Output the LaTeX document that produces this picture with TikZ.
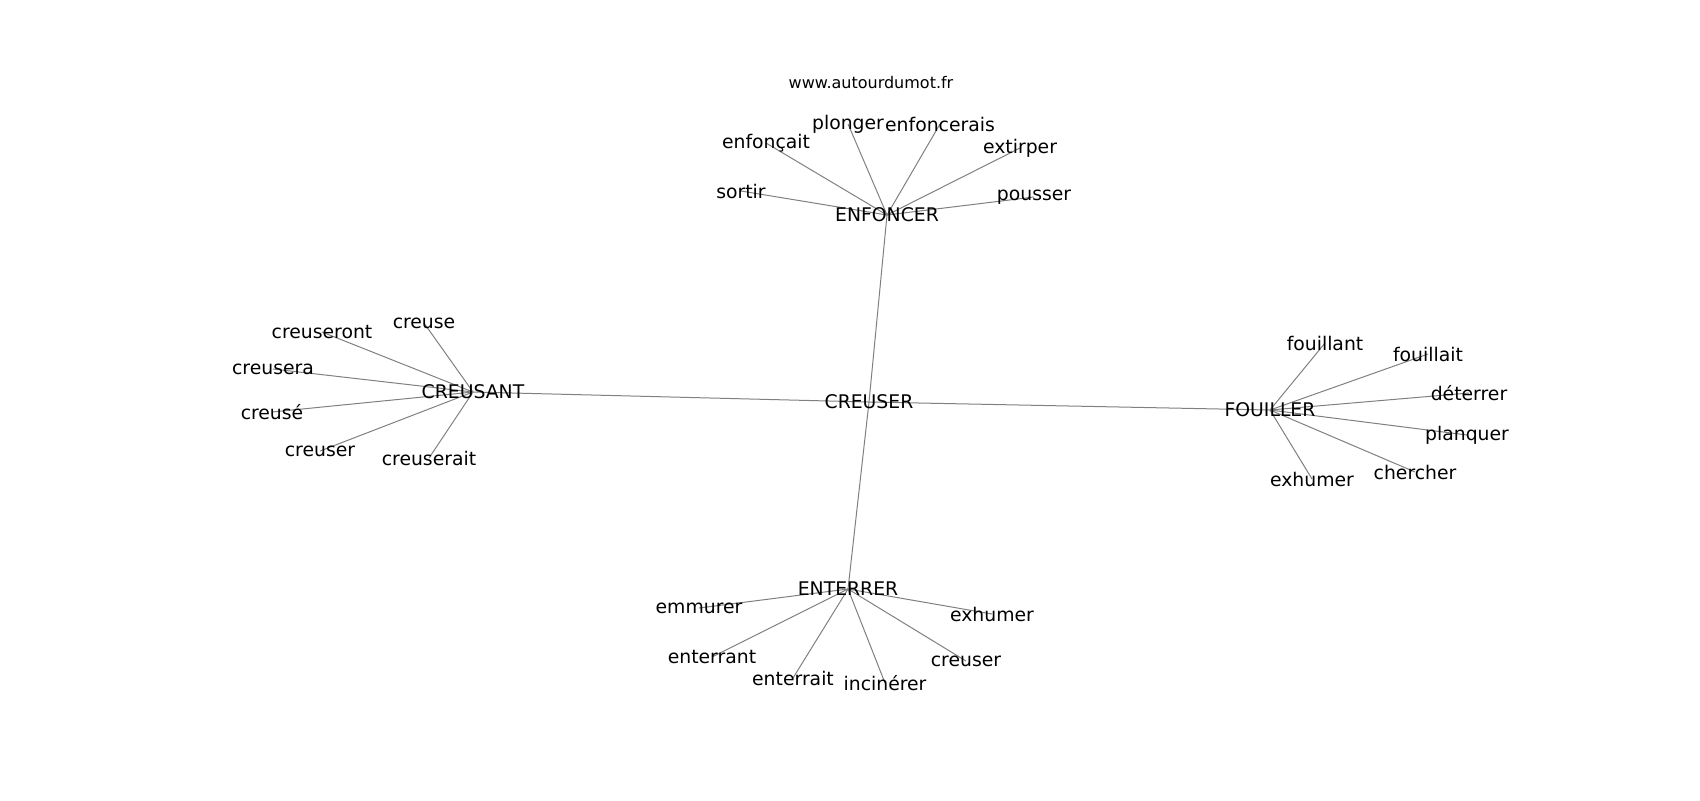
\documentclass[tikz,border=0pt]{standalone}
\usepackage{fontspec}
\setmainfont{DejaVu Sans}
\usetikzlibrary{backgrounds}

\begin{document}
\begin{tikzpicture}[x=0.5pt, y=-0.5pt,
  word/.style={inner sep=0pt, font=\fontsize{9.4}{11}\selectfont},
  link/.style={draw=gray, line width=0.5pt}]
\useasboundingbox (0,0) rectangle (1700,800);

% Title
\node[inner sep=0pt, font=\fontsize{8}{10}\selectfont] (site) at (871,83) {www.autourdumot.fr};

% Hubs
\node[word] (cre) at (869,402) {CREUSER};
\node[word] (enf) at (887,215) {ENFONCER};
\node[word] (crs) at (473,392) {CREUSANT};
\node[word] (fou) at (1270,410) {FOUILLER};
\node[word] (ent) at (848,589) {ENTERRER};

% ENFONCER
\node[word] (enf1) at (848,124) {plonger};
\node[word] (enf2) at (940,124) {enfoncerais};
\node[word] (enf3) at (766,143) {enfonçait};
\node[word] (enf4) at (1020,148) {extirper};
\node[word] (enf5) at (741,191) {sortir};
\node[word] (enf6) at (1034,197) {pousser};

% CREUSANT
\node[word] (crs1) at (424,323) {creuse};
\node[word] (crs2) at (322,332) {creuseront};
\node[word] (crs3) at (273,369) {creusera};
\node[word] (crs4) at (272,412) {creusé};
\node[word] (crs5) at (320,451) {creuser};
\node[word] (crs6) at (429,458) {creuserait};

% FOUILLER
\node[word] (fou1) at (1325,343) {fouillant};
\node[word] (fou2) at (1428,354) {fouillait};
\node[word] (fou3) at (1469,393) {déterrer};
\node[word] (fou4) at (1467,435) {planquer};
\node[word] (fou5) at (1415,472) {chercher};
\node[word] (fou6) at (1312,479) {exhumer};

% ENTERRER
\node[word] (ent1) at (699,608) {emmurer};
\node[word] (ent2) at (992,614) {exhumer};
\node[word] (ent3) at (712,657) {enterrant};
\node[word] (ent4) at (793,678) {enterrait};
\node[word] (ent5) at (885,683) {incinérer};
\node[word] (ent6) at (966,661) {creuser};

% Links
\begin{scope}[on background layer]
\foreach \h in {enf,crs,fou,ent}
  \draw[link] (cre.center) -- (\h.center);
\foreach \h in {enf,crs,fou,ent}
  \foreach \i in {1,...,6}
    \draw[link] (\h.center) -- (\h\i.center);
\end{scope}
\end{tikzpicture}
\end{document}
